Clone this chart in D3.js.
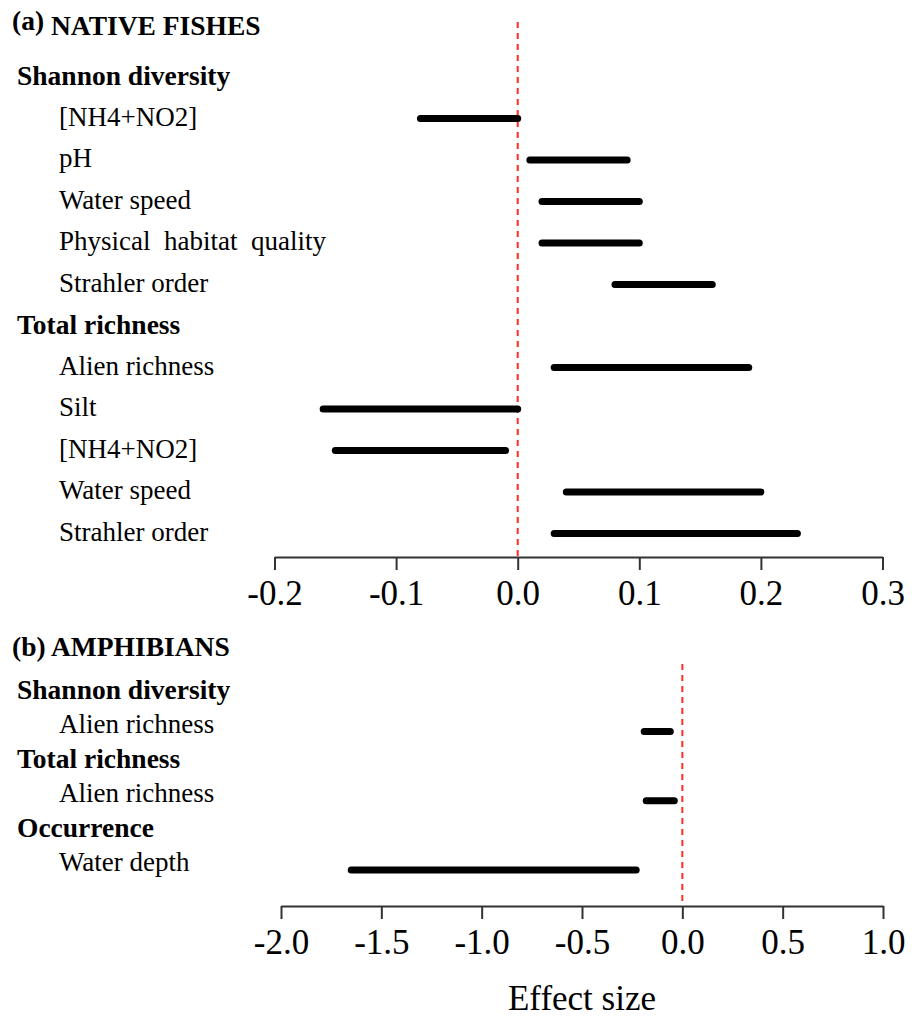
<!DOCTYPE html>
<html>
<head>
<meta charset="utf-8">
<script src="https://cdn.jsdelivr.net/npm/d3@7"></script>
<style>
  html, body { margin: 0; padding: 0; background: #fff; }
  svg { display: block; font-family: "Liberation Serif", "Times New Roman", serif; }
</style>
</head>
<body>
<svg id="chart" width="915" height="1020"></svg>
<script>
// --- panel (a) native fishes
const fishLabels = ["Shannon diversity", "[NH4+NO2]", "pH", "Water speed", "Physical  habitat  quality", "Strahler order",
  "Total richness", "Alien richness", "Silt", "[NH4+NO2]", "Water speed", "Strahler order"];
const fishHeader = [true, false, false, false, false, false, true, false, false, false, false, false];
const fishLow = [null, -0.08, 0.01, 0.02, 0.02, 0.08, null, 0.03, -0.16, -0.15, 0.04, 0.03];
const fishHigh = [null, 0.0, 0.09, 0.10, 0.10, 0.16, null, 0.19, 0.0, -0.01, 0.20, 0.23];
const fishTicks = [-0.2, -0.1, 0.0, 0.1, 0.2, 0.3];

// --- panel (b) amphibians
const amphLabels = ["Shannon diversity", "Alien richness", "Total richness", "Alien richness", "Occurrence", "Water depth"];
const amphHeader = [true, false, true, false, true, false];
const amphLow = [null, -0.19, null, -0.18, null, -1.65];
const amphHigh = [null, -0.06, null, -0.04, null, -0.23];
const amphTicks = [-2.0, -1.5, -1.0, -0.5, 0.0, 0.5, 1.0];

const svg = d3.select("#chart");

function drawPanel(cfg) {
  const g = svg.append("g");
  const x = d3.scaleLinear().domain(d3.extent(cfg.ticks)).range(cfg.xRange);
  const y = d3.scaleLinear().domain([0, cfg.labels.length - 1]).range(cfg.yRange);

  // title
  const title = g.append("text")
    .attr("x", 12).attr("y", cfg.titleY)
    .style("font-weight", "bold").style("font-size", "27.5px");
  title.append("tspan").attr("dy", cfg.tagRaise).text(cfg.tag);
  title.append("tspan").attr("dy", -cfg.tagRaise).text(" " + cfg.title);

  // row labels
  g.selectAll(".lab")
    .data(cfg.labels)
    .join("text")
    .attr("class", "lab")
    .attr("x", (d, i) => (cfg.header[i] ? 17 : 59))
    .attr("y", (d, i) => y(i))
    .attr("dy", "0.35em")
    .style("font-size", (d, i) => (cfg.header[i] ? "27.5px" : "27px"))
    .style("font-weight", (d, i) => (cfg.header[i] ? "bold" : "normal"))
    .style("white-space", "pre")
    .text((d) => d);

  // zero reference
  g.append("line")
    .attr("x1", x(0)).attr("x2", x(0))
    .attr("y1", cfg.refTop).attr("y2", cfg.axisY)
    .attr("stroke", "#ff2a2a")
    .attr("stroke-width", 2)
    .attr("stroke-dasharray", "6,5");

  // effect size intervals
  const idx = d3.range(cfg.labels.length).filter((i) => cfg.low[i] != null);
  g.selectAll(".bar")
    .data(idx)
    .join("line")
    .attr("class", "bar")
    .attr("x1", (i) => x(cfg.low[i]))
    .attr("x2", (i) => x(cfg.high[i]))
    .attr("y1", (i) => y(i) + cfg.barDy)
    .attr("y2", (i) => y(i) + cfg.barDy)
    .attr("stroke", "#000")
    .attr("stroke-width", 7)
    .attr("stroke-linecap", "round");

  // axis
  const ax = g.append("g")
    .attr("transform", `translate(0,${cfg.axisY})`)
    .call(d3.axisBottom(x).tickValues(cfg.ticks).tickSize(13).tickSizeOuter(0).tickPadding(10)
      .tickFormat((d) => d.toFixed(1)));
  ax.select(".domain").attr("stroke", "#333").attr("stroke-width", 2);
  ax.selectAll(".tick line").attr("stroke", "#333").attr("stroke-width", 2);
  ax.selectAll(".tick text")
    .attr("fill", "#000")
    .style("font-family", "'Liberation Serif', 'Times New Roman', serif")
    .style("font-size", "35px");
  return x;
}

drawPanel({
  tag: "(a)", title: "NATIVE FISHES", titleY: 35, tagRaise: -5,
  labels: fishLabels, header: fishHeader, low: fishLow, high: fishHigh, ticks: fishTicks,
  xRange: [274.5, 882.5], yRange: [75, 531.5], barDy: 2,
  refTop: 22, axisY: 557
});

const xb = drawPanel({
  tag: "(b)", title: "AMPHIBIANS", titleY: 656, tagRaise: 0,
  labels: amphLabels, header: amphHeader, low: amphLow, high: amphHigh, ticks: amphTicks,
  xRange: [281, 883], yRange: [689, 862], barDy: 8,
  refTop: 664, axisY: 906
});

svg.append("text")
  .attr("x", (xb.range()[0] + xb.range()[1]) / 2)
  .attr("y", 1010)
  .attr("text-anchor", "middle")
  .style("font-size", "35px")
  .text("Effect size");
</script>
</body>
</html>
